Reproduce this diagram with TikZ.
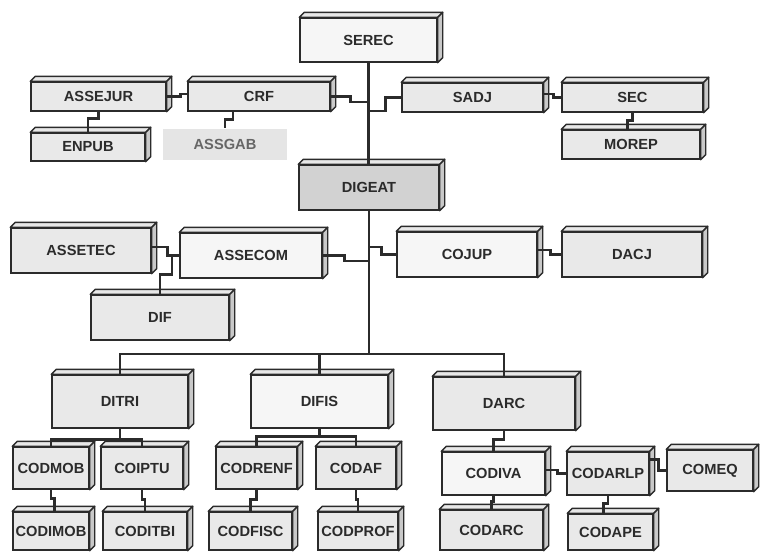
\documentclass[tikz,border=0pt]{standalone}
\usepackage{fontspec}
\setmainfont{Liberation Sans}
\usepackage{tikz}
\usetikzlibrary{calc}
\definecolor{inkgray}{HTML}{2B2B2B}
\definecolor{boxgray}{HTML}{E9E9E9}
\definecolor{boxwhite}{HTML}{F6F6F6}
\definecolor{boxdark}{HTML}{D2D2D2}

\begin{document}
\begin{tikzpicture}[
    x=0.03cm, y=-0.03cm,
    box/.style={draw=inkgray, line width=1.2pt, fill=#1, inner sep=0pt,
                text=inkgray, font=\bfseries\fontsize{12.5}{14}\selectfont},
    dims/.style 2 args={minimum width=#1*0.03cm, minimum height=#2*0.03cm},
    link/.style={draw=inkgray, line width=2.1pt},
    top face/.style={draw=inkgray, line width=1.2pt, fill=gray!18, line join=round},
    side face/.style={draw=inkgray, line width=1.2pt, fill=gray!42, line join=round}
]
    \useasboundingbox (0,0) rectangle (760,552);

    % Top level
    \node[box=boxwhite, dims={137}{44}] (serec) at (368.5,40) {SEREC};
    \node[box=boxgray, dims={135}{29}] (assejur) at (98.5,96.5) {ASSEJUR};
    \node[box=boxgray, dims={142}{29}] (crf) at (259,96.5) {CRF};
    \node[box=boxgray, dims={114}{28}] (enpub) at (88,147) {ENPUB};
    \node[box=gray!20, draw=none, text=gray!80!black, dims={124}{31}] (assgab) at (225,144.5) {ASSGAB};
    \node[box=boxgray, dims={141}{29}] (sadj) at (472.5,97.5) {SADJ};
    \node[box=boxgray, dims={141}{29}] (sec) at (632.5,97.5) {SEC};
    \node[box=boxgray, dims={138}{29}] (morep) at (631,144.5) {MOREP};

    % Second level
    \node[box=boxdark, dims={140}{45}] (digeat) at (369,187.5) {DIGEAT};
    \node[box=boxgray, dims={140}{45}] (assetec) at (81,250.5) {ASSETEC};
    \node[box=boxwhite, dims={142}{45}] (assecom) at (251,255.5) {ASSECOM};
    \node[box=boxgray, dims={138}{45}] (dif) at (160,317.5) {DIF};
    \node[box=boxwhite, dims={140}{45}] (cojup) at (467,254.5) {COJUP};
    \node[box=boxgray, dims={140}{45}] (dacj) at (632,254.5) {DACJ};

    % Directorates
    \node[box=boxgray, dims={136}{53}] (ditri) at (120,401.5) {DITRI};
    \node[box=boxwhite, dims={137}{53}] (difis) at (319.5,401.5) {DIFIS};
    \node[box=boxgray, dims={142}{53}] (darc) at (504,403.5) {DARC};

    % Coordinations
    \node[box=boxgray, dims={76}{42}] (codmob) at (51,468) {CODMOB};
    \node[box=boxgray, dims={82}{42}] (coiptu) at (142,468) {COIPTU};
    \node[box=boxgray, dims={76}{38}] (codimob) at (51,531) {CODIMOB};
    \node[box=boxgray, dims={84}{38}] (coditbi) at (145,531) {CODITBI};
    \node[box=boxgray, dims={81}{42}] (codrenf) at (256.5,468) {CODRENF};
    \node[box=boxgray, dims={80}{42}] (codaf) at (356,468) {CODAF};
    \node[box=boxgray, dims={83}{38}] (codfisc) at (250.5,531) {CODFISC};
    \node[box=boxgray, dims={80}{38}] (codprof) at (358,531) {CODPROF};
    \node[box=boxwhite, dims={103}{43}] (codiva) at (493.5,473.5) {CODIVA};
    \node[box=boxgray, dims={82}{43}] (codarlp) at (608,473.5) {CODARLP};
    \node[box=boxgray, dims={86}{41}] (comeq) at (710,470.5) {COMEQ};
    \node[box=boxgray, dims={103}{40}] (codarc) at (491.5,530) {CODARC};
    \node[box=boxgray, dims={85}{36}] (codape) at (610.5,532) {CODAPE};

    % 3D faces
    \foreach \n in {serec, assejur, crf, enpub, sadj, sec, morep, digeat, assetec,
                    assecom, dif, cojup, dacj, ditri, difis, darc, codmob, coiptu,
                    codimob, coditbi, codrenf, codaf, codfisc, codprof, codiva,
                    codarlp, comeq, codarc, codape} {
        \draw[top face] (\n.north west) -- ++(5,-5) -- ($(\n.north east)+(5,-5)$) -- (\n.north east) -- cycle;
        \draw[side face] (\n.north east) -- ++(5,-5) -- ($(\n.south east)+(5,-5)$) -- (\n.south east) -- cycle;
    }

    % Trunk
    \coordinate (bus) at (368,354);
    \coordinate (jl) at (368.5,102);
    \coordinate (jr) at (368.5,111);
    \coordinate (jm) at (368.5,261);
    \coordinate (jn) at (368.5,247);
    \draw[link] (serec.south) -- (serec.south |- digeat.north);
    \draw[link] (digeat.south) -- (digeat.south |- bus);

    % Top links
    \draw[link] (crf.east) -- ++(20,0) |- (jl);
    \draw[link] (sadj.west) -- ++(-16,0) |- (jr);
    \draw[link] (assejur.east) -- ++(14,0) |- ([yshift=2pt]crf.west);
    \draw[link] ([yshift=3pt]sadj.east) -- ++(10,0) |- (sec.west);
    \draw[link] (assejur.south) -- ++(0,7) -| (enpub.north);
    \draw[link] ([xshift=-22pt]crf.south) -- ++(0,8) -| (assgab.north);
    \draw[link] (sec.south) -- ++(0,8) -| ([xshift=-3pt]morep.north);

    % Second links
    \coordinate (jd) at (172,255.5);
    \draw[link] (assecom.east) -- ++(22,0) |- (jm);
    \draw[link] (cojup.west) -- ++(-15,0) |- (jn);
    \draw[link] ([yshift=3pt]assetec.east) -- ++(16,0) |- (assecom.west);
    \draw[link] (dif.north) -- ++(0,-20) -| (jd);
    \draw[link] ([yshift=4pt]cojup.east) -- ++(13,0) |- (dacj.west);

    % Bus to directorates
    \draw[link] (ditri.north) |- (bus) -| (darc.north);
    \draw[link] (difis.north) -- (difis.north |- bus);

    % Directorates to coordinations
    \coordinate (tri) at ($(ditri.south)+(0,11)$);
    \coordinate (fis) at ($(difis.south)+(0,8)$);
    \draw[link] (ditri.south) -- (tri);
    \draw[link] (codmob.north) |- (tri) -| (coiptu.north);
    \draw[link] (difis.south) -- (fis);
    \draw[link] (codrenf.north) |- (fis) -| (codaf.north);
    \draw[link] (darc.south) -- ++(0,9) -| (codiva.north);

    % Lower links
    \draw[link] (codmob.south) -- ++(0,9) -| ([xshift=3pt]codimob.north);
    \draw[link] (coiptu.south) -- ++(0,10) -| (coditbi.north);
    \draw[link] (codrenf.south) -- ++(0,10) -| (codfisc.north);
    \draw[link] (codaf.south) -- ++(0,10) -| (codprof.north);
    \draw[link] (codiva.south) -- ++(0,6) -| (codarc.north);
    \draw[link] (codarlp.south) -- ++(0,8) -| ([xshift=-6pt]codape.north);
    \draw[link] ([yshift=3pt]codiva.east) -- ++(12,0) |- (codarlp.west);
    \draw[link] ([yshift=12pt]codarlp.east) -- ++(9,0) |- (comeq.west);
\end{tikzpicture}
\end{document}
